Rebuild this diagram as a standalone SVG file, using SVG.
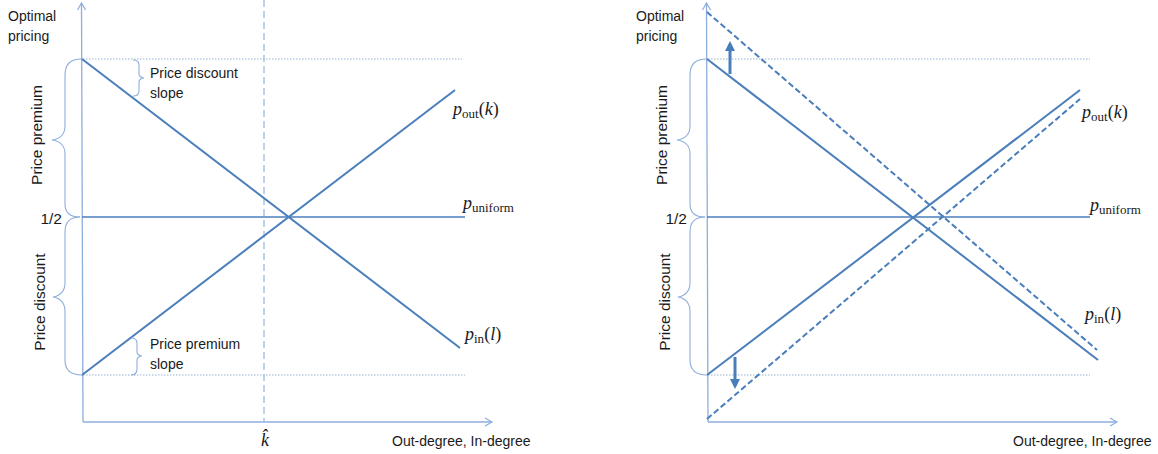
<svg xmlns="http://www.w3.org/2000/svg" width="1158" height="454" viewBox="0 0 1158 454">
<defs>
<style>
.ax{stroke:#8DAEDC;stroke-width:1.3;fill:none}
.dot{stroke:#9AB3D3;stroke-width:1;stroke-dasharray:1.5,1.5;fill:none}
.main{stroke:#4A7EBB;stroke-width:2;fill:none}
.dash{stroke:#4A7EBB;stroke-width:2;fill:none;stroke-dasharray:6,3}
.hl{stroke:#4A7EBB;stroke-width:1.3;fill:none}
.br{stroke:#8DAEDC;stroke-width:1.1;fill:none}
.vd{stroke:#9DBBE0;stroke-width:1.3;fill:none;stroke-dasharray:7,4}
.t{font-family:"Liberation Sans",Arial,sans-serif;font-size:14px;fill:#1a1a1a}
.r{font-size:15.5px}
.m{font-family:"Liberation Serif","DejaVu Serif",serif;font-size:18px;fill:#1a1a1a}
.mi{font-style:italic}
.sub{font-size:13px}
</style>
<marker id="ah" markerWidth="10" markerHeight="10" refX="8" refY="5" orient="auto" markerUnits="userSpaceOnUse">
<polyline points="1,1 8,5 1,9" fill="none" stroke="#8DAEDC" stroke-width="1.2"/>
</marker>
<marker id="bh" markerWidth="10" markerHeight="10" refX="7" refY="5" orient="auto" markerUnits="userSpaceOnUse">
<polygon points="0,0 10,5 0,10" fill="#4A7EBB"/>
</marker>
</defs>

<g id="left-panel">
<g id="left-axes">
<line class="ax" x1="83" y1="422" x2="81.5" y2="3" marker-end="url(#ah)"/>
<line class="ax" x1="83" y1="422" x2="492" y2="422" marker-end="url(#ah)"/>
<line class="dot" x1="83" y1="59" x2="462" y2="59"/>
<line class="dot" x1="83" y1="375" x2="465" y2="375"/>
<line class="vd" x1="264" y1="0" x2="264" y2="422"/>
</g>
<g id="left-connectors">
<line class="hl" x1="82" y1="217" x2="465" y2="217"/>
<line class="main" x1="82" y1="59" x2="460" y2="348"/>
<line class="main" x1="82" y1="375" x2="455" y2="90"/>
</g>
<g id="left-braces">
<path class="br" d="M82,59 C70,59 65,64 65,76 L65,126 C65,134 60,139 52,140 C60,141 65,146 65,154 L65,204 C65,212 70,217 80,217"/>
<path class="br" d="M80,217 C70,217 65,222 65,232 L65,283 C65,291 60,296 53,297 C60,298 65,303 65,311 L65,360 C65,370 70,375 82,375"/>
<path class="br" d="M133,60 C137,60 139,62 139,65 L139,74 C139,76 141,78 144,78 C141,78 139,80 139,82 L139,91 C139,94 137,96 133,96"/>
<path class="br" d="M131,338 C135,338 137,340 137,343 L137,352 C137,354 139,356 142,356 C139,356 137,358 137,360 L137,369 C137,373 135,375 131,375"/>
</g>
<g id="left-labels">
<text class="t" x="8" y="21">Optimal</text>
<text class="t" x="8" y="41">pricing</text>
<text class="t" x="150" y="78">Price discount</text>
<text class="t" x="150" y="98">slope</text>
<text class="t" x="150" y="349">Price premium</text>
<text class="t" x="150" y="369">slope</text>
<text class="t r" x="62" y="224" text-anchor="end">1/2</text>
<text class="t r" transform="translate(42,135) rotate(-90)" text-anchor="middle">Price premium</text>
<text class="t r" transform="translate(45,302) rotate(-90)" text-anchor="middle">Price discount</text>
<text class="t" x="392" y="446">Out-degree, In-degree</text>
<text class="m mi" x="265" y="446" text-anchor="middle">k̂</text>
<text class="m" x="453" y="115"><tspan class="mi">p</tspan><tspan class="sub" dy="3">out</tspan><tspan dy="-3">(</tspan><tspan class="mi">k</tspan>)</text>
<text class="m" x="463" y="209"><tspan class="mi">p</tspan><tspan class="sub" dy="3">uniform</tspan></text>
<text class="m" x="465" y="340"><tspan class="mi">p</tspan><tspan class="sub" dy="3">in</tspan><tspan dy="-3">(</tspan><tspan class="mi">l</tspan>)</text>
</g>
</g>

<g id="right-panel">
<g id="right-axes">
<line class="ax" x1="708" y1="422" x2="706.5" y2="3" marker-end="url(#ah)"/>
<line class="ax" x1="708" y1="422" x2="1117" y2="422" marker-end="url(#ah)"/>
<line class="dot" x1="708" y1="59" x2="1090" y2="59"/>
<line class="dot" x1="708" y1="375" x2="1090" y2="375"/>
</g>
<g id="right-connectors">
<line class="hl" x1="707" y1="217" x2="1090" y2="217"/>
<line class="main" x1="707" y1="59" x2="1098" y2="360"/>
<line class="main" x1="707" y1="375" x2="1080" y2="90"/>
<line class="dash" x1="707" y1="12" x2="1097" y2="350"/>
<line class="dash" x1="707" y1="419" x2="1080" y2="99"/>
<line stroke="#4A7EBB" stroke-width="3" x1="730" y1="74" x2="730" y2="44" marker-end="url(#bh)"/>
<line stroke="#4A7EBB" stroke-width="3" x1="735" y1="357" x2="735" y2="386" marker-end="url(#bh)"/>
</g>
<g id="right-braces">
<path class="br" d="M707,59 C695,59 690,64 690,76 L690,126 C690,134 685,139 677,140 C685,141 690,146 690,154 L690,204 C690,212 695,217 705,217"/>
<path class="br" d="M705,217 C695,217 690,222 690,232 L690,283 C690,291 685,296 678,297 C685,298 690,303 690,311 L690,360 C690,370 695,375 707,375"/>
</g>
<g id="right-labels">
<text class="t" x="636" y="21">Optimal</text>
<text class="t" x="636" y="41">pricing</text>
<text class="t r" x="687" y="224" text-anchor="end">1/2</text>
<text class="t r" transform="translate(667,135) rotate(-90)" text-anchor="middle">Price premium</text>
<text class="t r" transform="translate(670,302) rotate(-90)" text-anchor="middle">Price discount</text>
<text class="t" x="1013" y="446">Out-degree, In-degree</text>
<text class="m" x="1082" y="118"><tspan class="mi">p</tspan><tspan class="sub" dy="3">out</tspan><tspan dy="-3">(</tspan><tspan class="mi">k</tspan>)</text>
<text class="m" x="1090" y="211"><tspan class="mi">p</tspan><tspan class="sub" dy="3">uniform</tspan></text>
<text class="m" x="1085" y="320"><tspan class="mi">p</tspan><tspan class="sub" dy="3">in</tspan><tspan dy="-3">(</tspan><tspan class="mi">l</tspan>)</text>
</g>
</g>
</svg>
